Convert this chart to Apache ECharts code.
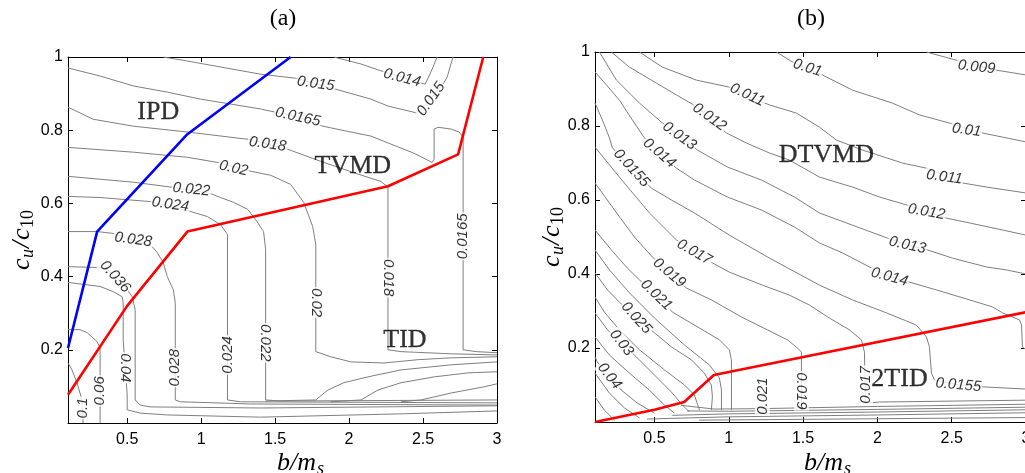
<!DOCTYPE html>
<html>
<head>
<meta charset="utf-8">
<script src="https://cdn.jsdelivr.net/npm/echarts@6/dist/echarts.min.js"></script>
<style>
html,body{margin:0;padding:0;background:#fff;}
#chart{width:1025px;height:473px;}
</style>
</head>
<body>
<div id="chart"></div>
<script>
// Tick positions shared by both panels
const xTicks = [0.5, 1, 1.5, 2, 2.5, 3];
const yTicks = [0.2, 0.4, 0.6, 0.8, 1];

// ---------- panel (a): contour lines [b/m_s, c_u/c_10] ----------
const a014 = [[1.897,1.0],[2.08,0.981],[2.202,0.964],[2.514,0.926],[2.541,0.948],[2.568,0.973],[2.595,1.0]];
const a015 = [[0.744,1.0],[0.907,0.989],[1.402,0.953],[1.639,0.942],[1.910,0.912],[2.147,0.885],[2.263,0.866],[2.439,0.849],[2.453,0.847],[2.52,0.871],[2.588,0.904],[2.636,0.926],[2.663,0.945],[2.683,0.973],[2.703,1.0]];
const a0165 = [[0.1,0.970],[0.317,0.948],[0.541,0.921],[0.771,0.904],[0.995,0.885],[1.402,0.858],[1.653,0.836],[1.822,0.811],[2.012,0.795],[2.147,0.784],[2.283,0.762],[2.439,0.737],[2.561,0.712],[2.575,0.721],[2.575,0.803],[2.602,0.808],[2.69,0.803],[2.744,0.795],[2.771,0.781],[2.771,0.2],[2.859,0.195],[3.0,0.192]];
const a018 = [[0.1,0.863],[0.27,0.830],[0.541,0.811],[0.907,0.795],[1.32,0.775],[1.449,0.762],[1.585,0.748],[1.808,0.715],[2.046,0.682],[2.215,0.660],[2.263,0.644],[2.263,0.2],[2.351,0.195],[2.69,0.189],[3.0,0.186]];
const a020 = [[0.1,0.753],[0.541,0.740],[0.907,0.726],[1.11,0.712],[1.334,0.688],[1.469,0.677],[1.605,0.652],[1.693,0.603],[1.754,0.537],[1.775,0.488],[1.775,0.195],[1.876,0.181],[2.012,0.167],[2.236,0.164],[2.466,0.173],[2.69,0.178],[3.0,0.181]];
const a022 = [[0.1,0.674],[0.317,0.666],[0.541,0.658],[0.805,0.644],[1.063,0.627],[1.131,0.616],[1.219,0.603],[1.314,0.584],[1.368,0.556],[1.422,0.523],[1.436,0.474],[1.436,0.063],[1.537,0.060],[3.0,0.063]];
const a024 = [[0.1,0.619],[0.317,0.616],[0.656,0.605],[0.927,0.578],[1.042,0.564],[1.131,0.542],[1.178,0.515],[1.178,0.063],[1.266,0.058],[3.0,0.055]];
const a028 = [[0.1,0.523],[0.297,0.523],[0.405,0.518],[0.669,0.482],[0.703,0.466],[0.744,0.438],[0.771,0.4],[0.812,0.364],[0.825,0.329],[0.825,0.063],[0.859,0.058],[1.334,0.052],[3.0,0.049]];
const a036 = [[0.1,0.427],[0.297,0.425],[0.351,0.425],[0.486,0.373],[0.534,0.345],[0.554,0.310],[0.554,0.063],[0.588,0.049],[0.656,0.044],[1.402,0.041],[3.0,0.047]];
const a040 = [[0.1,0.384],[0.317,0.373],[0.405,0.359],[0.466,0.345],[0.473,0.329],[0.473,0.227],[0.5,0.077],[0.5,0.036],[0.588,0.027],[0.771,0.022],[1.402,0.016],[2.351,0.025],[3.0,0.033]];
const a060 = [[0.1,0.255],[0.181,0.255],[0.229,0.247],[0.297,0.222],[0.317,0.205],[0.317,0]];
const a100 = [[0.1,0.164],[0.127,0.145],[0.161,0.110],[0.181,0.082],[0.195,0.063],[0.202,0]];
const aRise1 = [[1.436,0.060],[1.775,0.063],[1.856,0.090],[1.964,0.110],[2.127,0.126],[2.351,0.145],[2.69,0.159],[3.0,0.167]];
const aRise2 = [[1.876,0.058],[2.08,0.063],[2.195,0.090],[2.351,0.110],[2.575,0.126],[2.805,0.137],[3.0,0.140]];
const aRise3 = [[2.351,0.058],[2.486,0.063],[2.69,0.082],[2.914,0.099],[3.0,0.107]];

// regime boundaries, panel (a)
const aRed = [[0.1,0.077],[0.5,0.32],[0.907,0.523],[2.263,0.647],[2.737,0.734],[2.907,1.0]];
const aBlue = [[0.1,0.205],[0.297,0.523],[0.907,0.789],[1.605,1.0]];

// contour level labels, panel (a): [x, y, text, angle]
const aLabels = [
  [2.358,0.943,'0.014',-14],
  [1.775,0.927,'0.015',-8],
  [2.554,0.885,'0.015',55],
  [1.653,0.836,'0.0165',-12],
  [2.771,0.510,'0.0165',90],
  [1.449,0.762,'0.018',-8],
  [2.263,0.397,'0.018',-90],
  [1.219,0.696,'0.02',-12],
  [1.775,0.329,'0.02',-90],
  [0.934,0.638,'0.022',-6],
  [1.436,0.219,'0.022',-90],
  [0.792,0.597,'0.024',-8],
  [1.178,0.186,'0.024',90],
  [0.541,0.501,'0.028',-8],
  [0.825,0.151,'0.028',90],
  [0.419,0.400,'0.036',-48],
  [0.486,0.151,'0.04',-90],
  [0.317,0.088,'0.06',90],
  [0.198,0.041,'0.1',90]
];
const aRegions = [[0.71,0.849,'IPD'],[2.025,0.701,'TVMD'],[2.378,0.227,'TID']];

// ---------- panel (b): contour lines ----------
const b009 = [[2.33,1.0],[2.53,0.978],[2.80,0.951],[3.0,0.938]];
const b010 = [[1.32,1.0],[1.428,0.973],[1.63,0.938],[1.832,0.897],[2.10,0.862],[2.283,0.830],[2.485,0.808],[2.708,0.781],[2.842,0.770],[3.0,0.757]];
const b011 = [[0.399,1.0],[0.554,0.959],[0.782,0.924],[1.004,0.905],[1.139,0.878],[1.274,0.857],[1.455,0.835],[1.61,0.797],[1.724,0.762],[1.90,0.735],[2.061,0.714],[2.168,0.70],[2.33,0.686],[2.573,0.646],[2.734,0.635],[3.0,0.619]];
const b012 = [[0.21,1.0],[0.332,0.959],[0.513,0.916],[0.648,0.884],[0.755,0.859],[0.87,0.824],[0.984,0.781],[1.119,0.754],[1.274,0.727],[1.408,0.708],[1.61,0.662],[1.832,0.635],[2.014,0.608],[2.202,0.586],[2.465,0.551],[2.62,0.538],[2.842,0.519],[3.0,0.505]];
const b013 = [[0.13,1.0],[0.244,0.924],[0.399,0.862],[0.554,0.808],[0.668,0.773],[0.789,0.735],[0.991,0.689],[1.22,0.654],[1.442,0.608],[1.61,0.565],[1.832,0.532],[2.068,0.497],[2.202,0.478],[2.337,0.465],[2.505,0.443],[2.734,0.419],[2.869,0.411],[3.0,0.40]];
const b014 = [[0.1,0.946],[0.177,0.911],[0.264,0.870],[0.352,0.816],[0.432,0.768],[0.533,0.727],[0.648,0.686],[0.769,0.654],[0.991,0.608],[1.22,0.573],[1.442,0.527],[1.61,0.484],[1.765,0.457],[1.947,0.419],[2.081,0.392],[2.215,0.378],[2.397,0.357],[2.62,0.330],[2.775,0.311],[2.842,0.295],[2.956,0.276],[2.97,0.262],[2.976,0.203],[3.0,0.195]];
const b0155 = [[0.1,0.862],[0.15,0.816],[0.197,0.768],[0.217,0.741],[0.346,0.686],[0.48,0.632],[0.614,0.60],[0.769,0.565],[1.004,0.505],[1.274,0.443],[1.61,0.370],[1.832,0.330],[2.061,0.295],[2.262,0.262],[2.33,0.230],[2.35,0.203],[2.364,0.132],[2.384,0.114],[2.545,0.10],[2.708,0.095],[3.0,0.089]];
const b017 = [[0.1,0.743],[0.264,0.662],[0.466,0.565],[0.648,0.492],[0.769,0.459],[0.89,0.43],[1.004,0.405],[1.226,0.370],[1.408,0.343],[1.543,0.316],[1.677,0.281],[1.812,0.249],[1.893,0.222],[1.913,0.189],[1.92,0.051],[2.014,0.054],[3.0,0.059]];
const b019 = [[0.1,0.646],[0.231,0.573],[0.365,0.50],[0.486,0.446],[0.60,0.403],[0.715,0.362],[0.883,0.330],[1.085,0.284],[1.26,0.249],[1.395,0.222],[1.462,0.20],[1.489,0.189],[1.489,0.032]];
const b021 = [[0.1,0.519],[0.21,0.465],[0.318,0.416],[0.399,0.384],[0.513,0.343],[0.621,0.297],[0.803,0.254],[0.937,0.222],[1.004,0.195],[1.018,0.168],[1.018,0.032]];
const b023 = [[0.1,0.465],[0.197,0.411],[0.332,0.349],[0.5,0.281],[0.702,0.208],[0.87,0.154],[0.937,0.119],[0.951,0.086],[0.951,0.032]];
const b025 = [[0.1,0.403],[0.184,0.357],[0.264,0.324],[0.378,0.281],[0.5,0.241],[0.614,0.203],[0.749,0.168],[0.836,0.132],[0.883,0.10],[0.89,0.068],[0.883,0.032]];
const b0275 = [[0.1,0.338],[0.163,0.297],[0.264,0.249],[0.399,0.195],[0.567,0.141],[0.702,0.10],[0.769,0.073],[0.803,0.032]];
const b030 = [[0.1,0.295],[0.184,0.249],[0.278,0.214],[0.378,0.176],[0.5,0.127],[0.614,0.081],[0.688,0.046],[0.735,0.027]];
const b035 = [[0.1,0.230],[0.197,0.181],[0.332,0.132],[0.466,0.086],[0.567,0.046],[0.634,0.024]];
const b040 = [[0.1,0.176],[0.116,0.162],[0.197,0.124],[0.278,0.086],[0.385,0.051],[0.5,0.024]];
const b050 = [[0.1,0.132],[0.197,0.078],[0.298,0.038],[0.399,0.011]];
const b060 = [[0.1,0.068],[0.163,0.032],[0.231,0.005]];
const bBand1 = [[0.68,0.045],[0.9,0.035],[1.2,0.036],[2.0,0.042],[3.0,0.048]];
const bBand2 = [[0.72,0.030],[1.0,0.029],[2.0,0.034],[3.0,0.040]];
const bBand3 = [[0.62,0.018],[1.0,0.022],[2.0,0.027],[3.0,0.033]];
const bBand4 = [[0.45,0.008],[1.0,0.014],[2.0,0.019],[3.0,0.025]];
const bBand5 = [[0.8,0.005],[3.0,0.012]];

// regime boundary, panel (b)
const bRed = [[0.1,0.0],[0.5,0.033],[0.7,0.054],[0.9,0.127],[3.0,0.297]];

// contour level labels, panel (b): [x, y, text, angle]
const bLabels = [
  [2.667,0.959,'0.009',-6],
  [1.53,0.957,'0.01',-18],
  [2.60,0.789,'0.01',-8],
  [1.125,0.884,'0.011',-25],
  [2.451,0.662,'0.011',-8],
  [0.87,0.824,'0.012',-36],
  [2.33,0.568,'0.012',-10],
  [0.668,0.773,'0.013',-36],
  [2.202,0.478,'0.013',-12],
  [0.533,0.727,'0.014',-40],
  [2.081,0.392,'0.014',-15],
  [0.346,0.686,'0.0155',-48],
  [2.545,0.10,'0.0155',-5],
  [0.769,0.459,'0.017',-30],
  [1.92,0.10,'0.017',90],
  [0.60,0.403,'0.019',-40],
  [1.489,0.084,'0.019',-90],
  [0.513,0.343,'0.021',-44],
  [1.226,0.07,'0.021',90],
  [0.378,0.281,'0.025',-48],
  [0.278,0.214,'0.03',-52],
  [0.197,0.124,'0.04',-52]
];
const bRegions = [[1.657,0.722,'DTVMD'],[2.149,0.116,'2TID']];

const aContours = [a014,a015,a0165,a018,a020,a022,a024,a028,a036,a040,a060,a100,aRise1,aRise2,aRise3];
const bContours = [b009,b010,b011,b012,b013,b014,b0155,b017,b019,b021,b023,b025,b0275,b030,b035,b040,b050,b060,bBand1,bBand2,bBand3,bBand4,bBand5];

const SANS = 'Liberation Sans';
const SERIF = 'Liberation Serif';

function xAxisOf(grid, pos, labels) {
  return {
    type: 'value', gridIndex: grid, position: pos, min: 0.1, max: 3,
    axisLine: {show: true, onZero: false, lineStyle: {color: '#000', width: 1}},
    axisTick: {show: true, inside: true, length: 5, customValues: xTicks, lineStyle: {color: '#000'}},
    axisLabel: {show: labels, customValues: xTicks, formatter: v => String(v), color: '#000', fontFamily: SANS, fontSize: 16, margin: 9},
    splitLine: {show: false}
  };
}
function yAxisOf(grid, pos, labels) {
  return {
    type: 'value', gridIndex: grid, position: pos, min: 0, max: 1,
    axisLine: {show: true, onZero: false, lineStyle: {color: '#000', width: 1}},
    axisTick: {show: true, inside: true, length: 5, customValues: yTicks, lineStyle: {color: '#000'}},
    axisLabel: {show: labels, customValues: yTicks, formatter: v => String(v), color: '#000', fontFamily: SANS, fontSize: 16, margin: 5},
    splitLine: {show: false}
  };
}
function contourSeries(data, idx) {
  return {type: 'line', xAxisIndex: idx, yAxisIndex: idx, data: data, symbol: 'none', silent: true,
    lineStyle: {color: '#7f7f7f', width: 1}, z: 2};
}
function boundarySeries(data, idx, color) {
  return {type: 'line', xAxisIndex: idx, yAxisIndex: idx, data: data, symbol: 'none', silent: true,
    lineStyle: {color: color, width: 2.6}, z: 4};
}
function levelLabels(list, idx) {
  return {type: 'scatter', xAxisIndex: idx, yAxisIndex: idx, silent: true, symbolSize: 1, z: 6,
    itemStyle: {color: '#fff'},
    data: list.map(([x, y, t, r]) => ({value: [x, y], name: t, label: {rotate: r}})),
    label: {show: true, position: 'inside', formatter: '{b}', color: '#000', fontFamily: SANS,
      fontStyle: 'italic', fontSize: 15, backgroundColor: '#fff', padding: [0, 1]}};
}
function regionLabels(list, idx) {
  return {type: 'scatter', xAxisIndex: idx, yAxisIndex: idx, silent: true, symbolSize: 1, z: 7,
    itemStyle: {color: '#fff'},
    data: list.map(([x, y, t]) => ({value: [x, y], name: t})),
    label: {show: true, position: 'inside', formatter: '{b}', color: '#000', fontFamily: SERIF, fontSize: 26,
      textBorderColor: '#000', textBorderWidth: 0.3}};
}

// axis-name pieces: math italic with subscripts
function txt(text, x, y, size, italic) {
  return {type: 'text', x: x, y: y, silent: true,
    style: {text: text, fill: '#000', font: (italic ? 'italic ' : '') + size + 'px "' + SERIF + '"',
      textAlign: 'left', textVerticalAlign: 'middle', align: 'left', verticalAlign: 'middle'}};
}
function xName(cx, cy) {
  return {type: 'group', x: cx, y: cy, children: [
    txt('b/m', -25, 0, 26, true),
    txt('s', 15, 6, 18, true)
  ]};
}
function yName(cx, cy) {
  return {type: 'group', x: cx, y: cy, rotation: Math.PI / 2, children: [
    txt('c', -32, 0, 26, true),
    txt('u', -20, 6, 18, true),
    txt('/', -10, 0, 26, true),
    txt('c', -2, 0, 26, true),
    txt('10', 10, 6, 18, false)
  ]};
}
function title(text, cx, cy) {
  return {type: 'text', x: cx, y: cy, silent: true,
    style: {text: text, fill: '#000', font: '24px "' + SERIF + '"', textAlign: 'center', textVerticalAlign: 'middle', align: 'center', verticalAlign: 'middle'}};
}

const series = [];
aContours.forEach(c => series.push(contourSeries(c, 0)));
bContours.forEach(c => series.push(contourSeries(c, 2)));
series.push(boundarySeries(aRed, 0, '#ff0000'));
series.push(boundarySeries(aBlue, 0, '#0000ff'));
series.push(boundarySeries(bRed, 2, '#ff0000'));
series.push(levelLabels(aLabels, 0));
series.push(levelLabels(bLabels, 2));
series.push(regionLabels(aRegions, 0));
series.push(regionLabels(bRegions, 2));

const chart = echarts.init(document.getElementById('chart'), null, {renderer: 'canvas'});
chart.setOption({
  animation: false,
  backgroundColor: '#fff',
  grid: [
    {left: 68, top: 57, width: 429, height: 366, outerBoundsMode: 'none', containLabel: false},
    {left: 595, top: 52, width: 431, height: 370, outerBoundsMode: 'none', containLabel: false}
  ],
  xAxis: [xAxisOf(0, 'bottom', true), xAxisOf(0, 'top', false), xAxisOf(1, 'bottom', true), xAxisOf(1, 'top', false)],
  yAxis: [yAxisOf(0, 'left', true), yAxisOf(0, 'right', false), yAxisOf(1, 'left', true), yAxisOf(1, 'right', false)],
  series: series,
  graphic: [
    title('(a)', 283, 19),
    title('(b)', 811, 19),
    xName(302, 463),
    xName(829, 463),
    yName(22, 238),
    yName(552, 235)
  ]
});
</script>
</body>
</html>
